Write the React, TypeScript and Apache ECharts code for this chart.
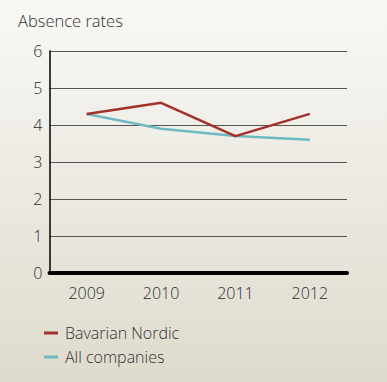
import React, { useEffect, useRef } from "react";
import * as echarts from "echarts";

const categories = ["2009", "2010", "2011", "2012"];
const bavarianNordic = [4.3, 4.6, 3.7, 4.3];
const allCompanies = [4.3, 3.9, 3.7, 3.6];
const seriesNames = ["Bavarian Nordic", "All companies"];
const yTicks = { min: 0, max: 6, interval: 1 };

const FONT = "'Open Sans', sans-serif";

export default function App() {
  const ref = useRef<HTMLDivElement>(null);
  useEffect(() => {
    document.body.style.margin = "0";
    const chart = echarts.init(ref.current!, null, { renderer: "svg" });
    chart.setOption({
      animation: false,
      backgroundColor: new echarts.graphic.LinearGradient(0, 0, 0, 1, [
        { offset: 0, color: "#f9f8f5" },
        { offset: 1, color: "#dedbcd" },
      ]),
      title: {
        text: "Absence rates",
        left: 13,
        top: 7,
        textStyle: { fontFamily: FONT, fontWeight: 300, fontSize: 16.5, color: "#333" },
      },
      legend: {
        orient: "vertical",
        left: 39,
        top: 320,
        itemWidth: 14,
        itemHeight: 3,
        itemGap: 8,
        icon: "rect",
        textStyle: { fontFamily: FONT, fontWeight: 300, fontSize: 16, color: "#333", padding: [0, 0, 0, 2] },
        data: seriesNames,
      },
      grid: { left: 49.5, right: 40, top: 51, bottom: 109, containLabel: false },
      xAxis: {
        type: "category",
        data: categories,
        boundaryGap: true,
        axisLine: { show: true, lineStyle: { color: "#000", width: 4 } },
        axisTick: { show: false },
        axisLabel: { fontFamily: FONT, fontWeight: 300, fontSize: 16, color: "#2e2e2e", margin: 12 },
      },
      yAxis: {
        type: "value",
        min: yTicks.min,
        max: yTicks.max,
        interval: yTicks.interval,
        axisLine: { show: true, lineStyle: { color: "#000", width: 1.5 } },
        axisTick: { show: false },
        axisLabel: { fontFamily: FONT, fontWeight: 300, fontSize: 16, color: "#2e2e2e", margin: 7 },
        splitLine: { show: true, lineStyle: { color: "#555", width: 1.2 } },
      },
      series: [
        {
          name: seriesNames[0],
          type: "line",
          data: bavarianNordic,
          symbol: "none",
          lineStyle: { color: "#a3312b", width: 2.5 },
          itemStyle: { color: "#a3312b" },
          z: 3,
        },
        {
          name: seriesNames[1],
          type: "line",
          data: allCompanies,
          symbol: "none",
          lineStyle: { color: "#6dbac1", width: 2.5 },
          itemStyle: { color: "#6dbac1" },
          z: 2,
        },
      ],
    });
    return () => chart.dispose();
  }, []);
  return <div ref={ref} style={{ width: 387, height: 382 }} />;
}
